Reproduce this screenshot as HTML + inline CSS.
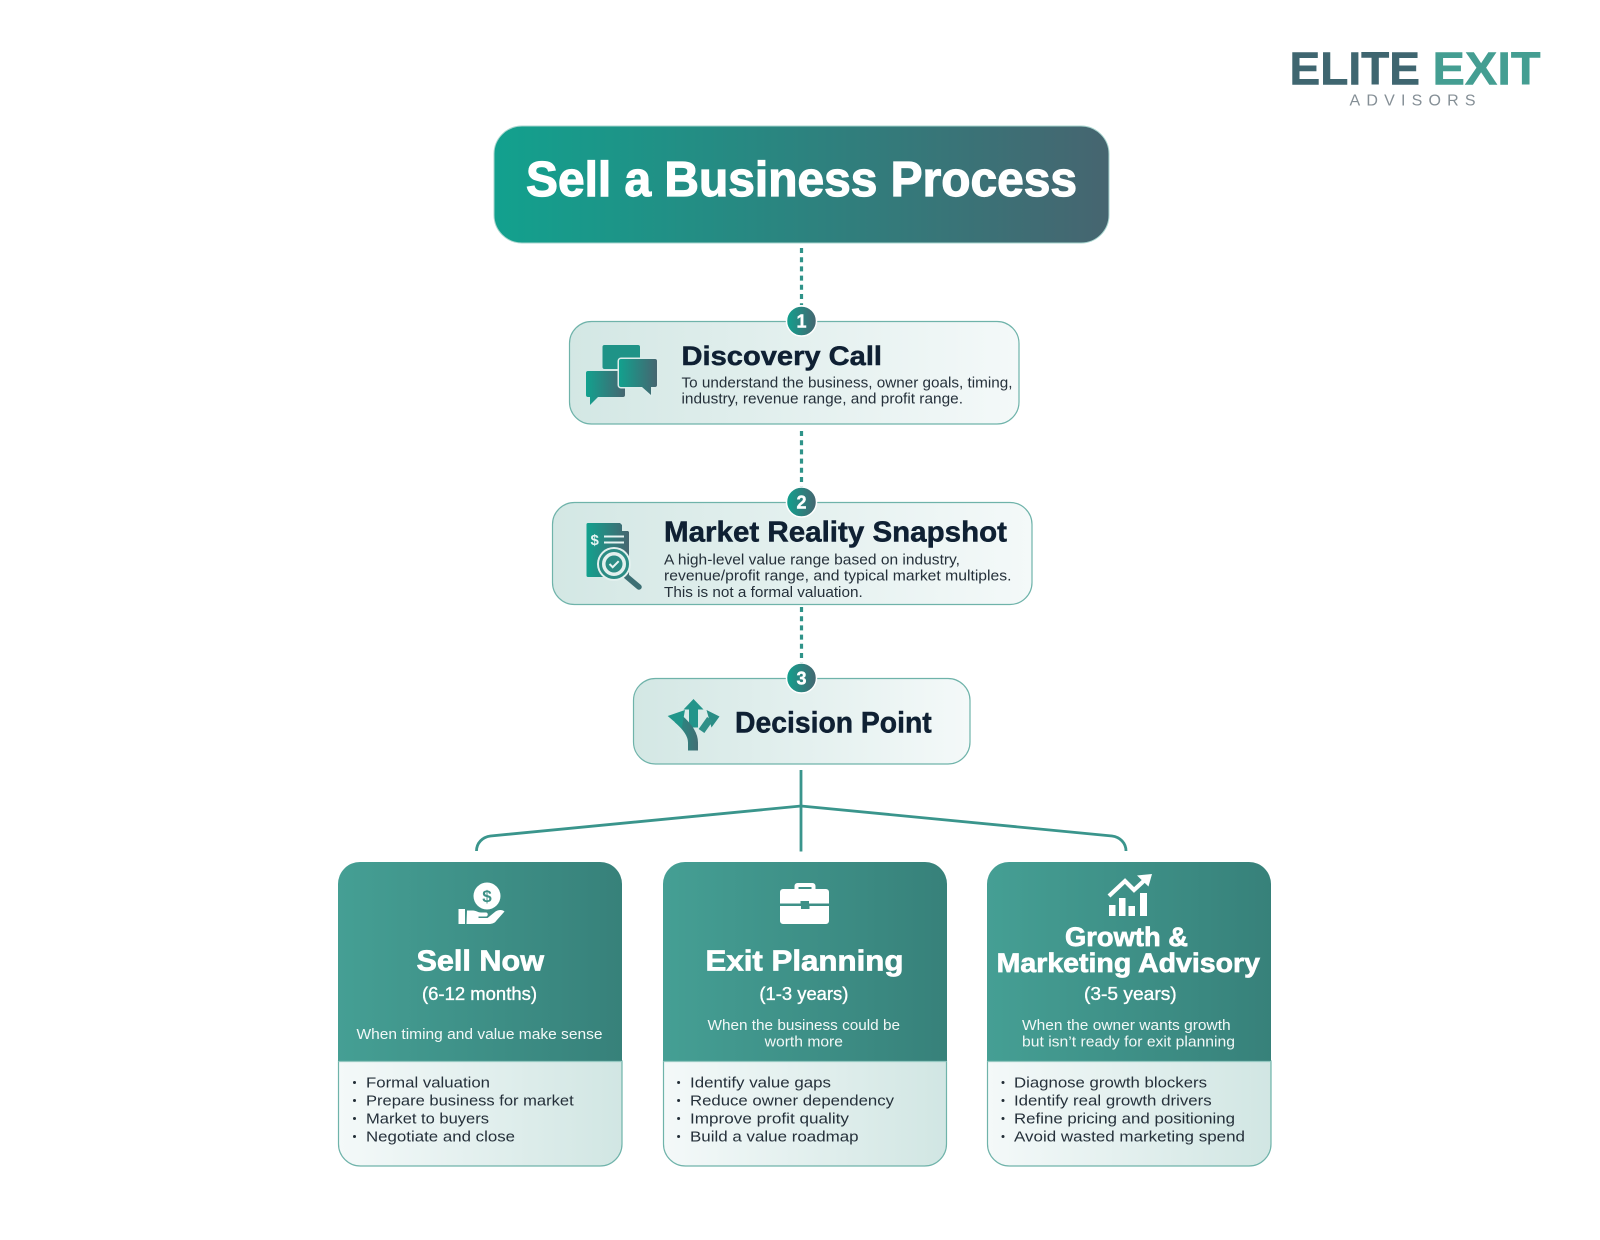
<!DOCTYPE html>
<html lang="en"><head><meta charset="utf-8"><title>Sell a Business Process</title>
<style>
html,body{margin:0;padding:0;background:#fff;width:1600px;height:1240px;overflow:hidden}
svg{display:block}
text{font-family:"Liberation Sans",Arial,sans-serif}
.b{font-weight:700}
.d{fill:#0f2033;font-weight:700;stroke:#0f2033;stroke-width:.5px}
.t{fill:#25303a;font-size:15px}
.w{fill:#fff;stroke:#fff;stroke-width:.7px}
.m{fill:#fff;font-size:18px;stroke:#fff;stroke-width:.35px}
.s{fill:#f2f8f7;font-size:15px}
.n{fill:#fff;font-weight:700;font-size:18px;stroke:#fff;stroke-width:.4px}
</style></head><body>
<svg xmlns="http://www.w3.org/2000/svg" width="1600" height="1240" viewBox="0 0 1600 1240">
<defs>
<linearGradient id="gt"><stop offset="0" stop-color="#12a18e"/><stop offset="1" stop-color="#466570"/></linearGradient>
<linearGradient id="gl"><stop offset="0" stop-color="#d3e7e4"/><stop offset="1" stop-color="#f4f9f9"/></linearGradient>
<linearGradient id="gr"><stop offset="0" stop-color="#f4f9f9"/><stop offset="1" stop-color="#d1e6e3"/></linearGradient>
<linearGradient id="gh"><stop offset="0" stop-color="#459f94"/><stop offset="1" stop-color="#37817a"/></linearGradient>
<linearGradient id="gs" gradientUnits="userSpaceOnUse" x1="672" y1="0" x2="700" y2="0"><stop offset="0" stop-color="#1f9387"/><stop offset="1" stop-color="#456a72"/></linearGradient>
</defs>

<!-- Logo -->
<text class="b" x="1289.500" y="84.300" font-size="46" fill="#3f6670" stroke="#3f6670" stroke-width=".6" textLength="130.500" lengthAdjust="spacingAndGlyphs">ELITE</text>
<text class="b" x="1432.500" y="84.300" font-size="46" fill="#449e92" stroke="#449e92" stroke-width=".6" textLength="108" lengthAdjust="spacingAndGlyphs">EXIT</text>
<text x="1349.500" y="105.500" font-size="16" fill="#858f96" textLength="126" lengthAdjust="spacing">ADVISORS</text>

<!-- Title -->
<rect x="494" y="126" width="615" height="117" rx="28" fill="url(#gt)" stroke="#a9d6cf" stroke-width="1"/>
<text class="b w" x="526" y="196" font-size="49" textLength="551" lengthAdjust="spacingAndGlyphs" style="stroke-width:1.200px">Sell a Business Process</text>

<!-- Dotted connectors -->
<g stroke="#2f9389" stroke-width="3.200" stroke-dasharray="5 4.200" fill="none">
<line x1="801.500" y1="248" x2="801.500" y2="305"/>
<line x1="801.500" y1="431" x2="801.500" y2="488"/>
<line x1="801.500" y1="607" x2="801.500" y2="664"/>
</g>

<!-- Discovery -->
<rect x="569.500" y="321.500" width="449.500" height="102.500" rx="22" fill="url(#gl)" stroke="#6fb3aa" stroke-width="1.200"/>
<rect x="602.500" y="345" width="37.500" height="24" rx="2" fill="#1f9387"/>
<path d="M588 371h35a2 2 0 0 1 2 2v22a2 2 0 0 1-2 2h-25l-8 8v-8h-2a2 2 0 0 1-2-2v-22a2 2 0 0 1 2-2z" fill="url(#gt)"/>
<path d="M621 359h34a2 2 0 0 1 2 2v24a2 2 0 0 1-2 2h-4v8l-9-8h-21a2 2 0 0 1-2-2v-24a2 2 0 0 1 2-2z" fill="url(#gt)" stroke="#dcecea" stroke-width="3" paint-order="stroke"/>
<text class="d" x="681.500" y="365" font-size="27" textLength="200.500" lengthAdjust="spacingAndGlyphs">Discovery Call</text>
<text class="t" x="681.500" y="387.300" textLength="331" lengthAdjust="spacingAndGlyphs">To understand the business, owner goals, timing,</text>
<text class="t" x="681.500" y="403.600" textLength="281.500" lengthAdjust="spacingAndGlyphs">industry, revenue range, and profit range.</text>
<circle cx="801.500" cy="321" r="15" fill="url(#gt)" stroke="#fff" stroke-width="1.500"/>
<text class="n" x="801.500" y="327.500" text-anchor="middle">1</text>

<!-- Market -->
<rect x="552.500" y="502.500" width="479.500" height="102" rx="22" fill="url(#gl)" stroke="#6fb3aa" stroke-width="1.200"/>
<path d="M588 523h32l9 9v45h-41a1.500 1.500 0 0 1-1.500-1.500v-51a1.500 1.500 0 0 1 1.500-1.500z" fill="url(#gt)"/>
<path d="M622 523l7 8h-7z" fill="#d9ebe8"/>
<text x="590.500" y="545" font-size="15" class="b" fill="#e6f4f2">$</text>
<rect x="604" y="535.500" width="20" height="2" fill="#e6f4f2"/>
<rect x="604" y="541.500" width="20" height="2" fill="#e6f4f2"/>
<line x1="626" y1="576" x2="639" y2="587" stroke="#3c6f74" stroke-width="5.500" stroke-linecap="round"/>
<circle cx="614" cy="564" r="17" fill="#e3f0ee"/>
<circle cx="614" cy="564" r="13.500" fill="#e3f0ee" stroke="#2c8c84" stroke-width="3"/>
<circle cx="614" cy="564" r="8.500" fill="#2c8c84"/>
<path d="M609.500 564l3.200 3.200 6-6" fill="none" stroke="#e9f5f3" stroke-width="2"/>
<text class="d" x="664" y="541.700" font-size="29" textLength="343" lengthAdjust="spacingAndGlyphs">Market Reality Snapshot</text>
<text class="t" x="664" y="564.300" textLength="296" lengthAdjust="spacingAndGlyphs">A high-level value range based on industry,</text>
<text class="t" x="664" y="580.700" textLength="347.500" lengthAdjust="spacingAndGlyphs">revenue/profit range, and typical market multiples.</text>
<text class="t" x="664" y="597" textLength="198.700" lengthAdjust="spacingAndGlyphs">This is not a formal valuation.</text>
<circle cx="801.500" cy="502" r="15" fill="url(#gt)" stroke="#fff" stroke-width="1.500"/>
<text class="n" x="801.500" y="508.500" text-anchor="middle">2</text>

<!-- Decision -->
<rect x="633.500" y="678.500" width="336.500" height="85.500" rx="22" fill="url(#gl)" stroke="#6fb3aa" stroke-width="1.200"/>
<path d="M693.500 699l10 10.500h-5.500v18h-9v-18h-5.500z" fill="#23948a"/>
<path d="M693 750.500v-8c0-9-8-18-15-24" fill="none" stroke="url(#gs)" stroke-width="10"/>
<path d="M667.700 716l17.300-6-3.300 18z" fill="#20968a"/>
<path d="M719.500 716.500l-13-6.500 5 17.500z" fill="#2a8d85"/>
<path d="M710 719l-8.500 12" fill="none" stroke="#2f8f88" stroke-width="7"/>
<text class="d" x="735" y="732.300" font-size="30" textLength="196.700" lengthAdjust="spacingAndGlyphs">Decision Point</text>
<circle cx="801.500" cy="678" r="15" fill="url(#gt)" stroke="#fff" stroke-width="1.500"/>
<text class="n" x="801.500" y="684.500" text-anchor="middle">3</text>

<!-- Tree connectors -->
<g fill="none" stroke="#3a958c" stroke-width="2.800">
<line x1="801" y1="770" x2="801" y2="851.500"/>
<path d="M476.500 851c0-8 6-14 14-15L801 806l311 30c8 1 14 7 14 15"/>
</g>

<!-- Card 1 -->
<path d="M338.500 1061v83a22 22 0 0 0 22 22h239.500a22 22 0 0 0 22-22v-83z" fill="url(#gr)" stroke="#6fb3aa" stroke-width="1.200"/>
<path d="M338 1061V884a22 22 0 0 1 22-22h240a22 22 0 0 1 22 22v177z" fill="url(#gh)"/>
<line x1="338.500" y1="1061.500" x2="622" y2="1061.500" stroke="#93c7c0" stroke-width="1.200"/>
<circle cx="487" cy="896" r="13.500" fill="#fff"/>
<text x="487" y="902" font-size="17" text-anchor="middle" fill="#3d9086" class="b">$</text>
<path d="M458.500 909h6.500v15h-6.500zM467 910.500h6c3 0 5 2 8 2h5c2 0 2.500 3 .5 4h-8v1.500h9l8-6.500c3-2 7-2 9 0l-8 9c-2 3-5 3.500-8 3.500h-22z" fill="#fff"/>
<text class="b w" x="416.500" y="970.700" font-size="29" textLength="127.500" lengthAdjust="spacingAndGlyphs">Sell Now</text>
<text class="m" x="422" y="1000" textLength="115" lengthAdjust="spacingAndGlyphs">(6-12 months)</text>
<text class="s" x="356.500" y="1039" textLength="246" lengthAdjust="spacingAndGlyphs">When timing and value make sense</text>
<g fill="#222d36">
<circle cx="354.500" cy="1082.500" r="1.500"/><circle cx="354.500" cy="1100.500" r="1.500"/><circle cx="354.500" cy="1118.500" r="1.500"/><circle cx="354.500" cy="1136.500" r="1.500"/>
</g>
<text class="t" x="366" y="1087.300" textLength="124" lengthAdjust="spacingAndGlyphs">Formal valuation</text>
<text class="t" x="366" y="1105.300" textLength="207.700" lengthAdjust="spacingAndGlyphs">Prepare business for market</text>
<text class="t" x="366" y="1123.300" textLength="123" lengthAdjust="spacingAndGlyphs">Market to buyers</text>
<text class="t" x="366" y="1141.300" textLength="149" lengthAdjust="spacingAndGlyphs">Negotiate and close</text>

<!-- Card 2 -->
<path d="M663.500 1061v83a22 22 0 0 0 22 22h239a22 22 0 0 0 22-22v-83z" fill="url(#gr)" stroke="#6fb3aa" stroke-width="1.200"/>
<path d="M663 1061V884a22 22 0 0 1 22-22h240a22 22 0 0 1 22 22v177z" fill="url(#gh)"/>
<line x1="663.500" y1="1061.500" x2="946.500" y2="1061.500" stroke="#93c7c0" stroke-width="1.200"/>
<path d="M794.500 889v-3a3 3 0 0 1 3-3h15a3 3 0 0 1 3 3v3h-4v-2h-13v2z" fill="#fff"/>
<path d="M783 889h43a3 3 0 0 1 3 3v11.500h-20v-2.500h-8.500v2.500H780V892a3 3 0 0 1 3-3z" fill="#fff"/>
<path d="M780 906h21v3h8.500v-3H829v15a3 3 0 0 1-3 3h-43a3 3 0 0 1-3-3z" fill="#fff"/>
<text class="b w" x="705.500" y="970.700" font-size="29" textLength="198" lengthAdjust="spacingAndGlyphs">Exit Planning</text>
<text class="m" x="759.400" y="1000" textLength="89" lengthAdjust="spacingAndGlyphs">(1-3 years)</text>
<text class="s" x="707.500" y="1030" textLength="192.500" lengthAdjust="spacingAndGlyphs">When the business could be</text>
<text class="s" x="764.700" y="1046.700" textLength="78.300" lengthAdjust="spacingAndGlyphs">worth more</text>
<g fill="#222d36">
<circle cx="678.600" cy="1082.500" r="1.500"/><circle cx="678.600" cy="1100.500" r="1.500"/><circle cx="678.600" cy="1118.500" r="1.500"/><circle cx="678.600" cy="1136.500" r="1.500"/>
</g>
<text class="t" x="690" y="1087.300" textLength="141" lengthAdjust="spacingAndGlyphs">Identify value gaps</text>
<text class="t" x="690" y="1105.300" textLength="204" lengthAdjust="spacingAndGlyphs">Reduce owner dependency</text>
<text class="t" x="690" y="1123.300" textLength="159" lengthAdjust="spacingAndGlyphs">Improve profit quality</text>
<text class="t" x="690" y="1141.300" textLength="168.600" lengthAdjust="spacingAndGlyphs">Build a value roadmap</text>

<!-- Card 3 -->
<path d="M987.500 1061v83a22 22 0 0 0 22 22h239.500a22 22 0 0 0 22-22v-83z" fill="url(#gr)" stroke="#6fb3aa" stroke-width="1.200"/>
<path d="M987 1061V884a22 22 0 0 1 22-22h240a22 22 0 0 1 22 22v177z" fill="url(#gh)"/>
<line x1="987.500" y1="1061.500" x2="1271" y2="1061.500" stroke="#93c7c0" stroke-width="1.200"/>
<g fill="#fff">
<rect x="1109" y="905" width="6.500" height="11"/><rect x="1119" y="898" width="6.500" height="18"/><rect x="1128.500" y="906" width="6.500" height="10"/><rect x="1140" y="893" width="7" height="23"/>
</g>
<path d="M1109 896l16-15 9 9 14-13" fill="none" stroke="#fff" stroke-width="4.200"/>
<path d="M1152 874l-15 1.500 11.500 11z" fill="#fff"/>
<text class="b w" x="1065" y="946" font-size="26.500" textLength="123" lengthAdjust="spacingAndGlyphs">Growth &amp;</text>
<text class="b w" x="996.700" y="972" font-size="26.500" textLength="263.300" lengthAdjust="spacingAndGlyphs">Marketing Advisory</text>
<text class="m" x="1084" y="1000" textLength="92.700" lengthAdjust="spacingAndGlyphs">(3-5 years)</text>
<text class="s" x="1022" y="1030" textLength="208.700" lengthAdjust="spacingAndGlyphs">When the owner wants growth</text>
<text class="s" x="1022" y="1046.700" textLength="213" lengthAdjust="spacingAndGlyphs">but isn’t ready for exit planning</text>
<g fill="#222d36">
<circle cx="1003" cy="1082.500" r="1.500"/><circle cx="1003" cy="1100.500" r="1.500"/><circle cx="1003" cy="1118.500" r="1.500"/><circle cx="1003" cy="1136.500" r="1.500"/>
</g>
<text class="t" x="1014" y="1087.300" textLength="193" lengthAdjust="spacingAndGlyphs">Diagnose growth blockers</text>
<text class="t" x="1014" y="1105.300" textLength="197.700" lengthAdjust="spacingAndGlyphs">Identify real growth drivers</text>
<text class="t" x="1014" y="1123.300" textLength="221" lengthAdjust="spacingAndGlyphs">Refine pricing and positioning</text>
<text class="t" x="1014" y="1141.300" textLength="231" lengthAdjust="spacingAndGlyphs">Avoid wasted marketing spend</text>
</svg>
</body></html>
